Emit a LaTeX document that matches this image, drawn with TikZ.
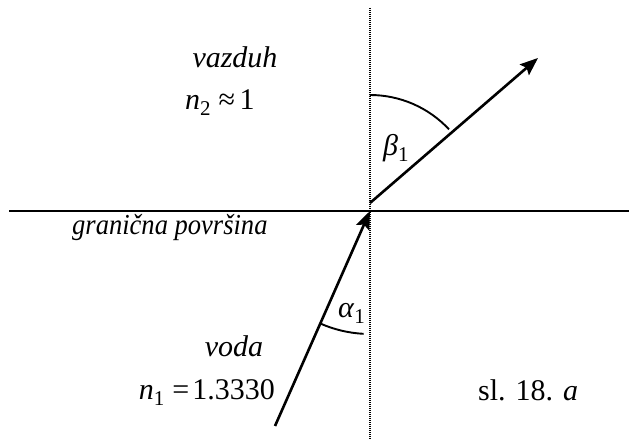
\documentclass[tikz,border=0pt]{standalone}
\usepackage{fontspec}
\setmainfont{Liberation Serif}
\usetikzlibrary{arrows.meta}
\newcommand{\Unit}{1pt}
\newcommand{\Edge}{2.6pt}
\newcommand{\LblFont}{\fontsize{30}{34}\selectfont}
\newcommand{\Idx}[2]{\textit{#1}\textsubscript{#2}}

\begin{document}
\begin{tikzpicture}[x=\Unit,y=\Unit, line cap=butt,
  lbl/.style={inner sep=0pt, font=\LblFont},
  ray/.style={line width=\Edge},
  tip/.style={-{Stealth[length=18pt,width=14pt,inset=3pt]}},
  angarc/.style={line width=1.9pt}]

  \useasboundingbox (0,0) rectangle (629,439);

  % ---- points -------------------------------------------------------------
  \coordinate (O)     at (370,228);   % where the rays meet the surface
  \coordinate (Rbase) at (370,236);
  \coordinate (Rtip)  at (538,381);
  \coordinate (Ifoot) at (275,13);
  \coordinate (Sleft) at (9,228);
  \coordinate (Sright) at (629,228);
  \coordinate (Ntop)  at (370,431);
  \coordinate (Nbot)  at (370,0);

  % ---- surface and normal -------------------------------------------------
  \draw[line width=2.2pt] (Sleft) -- (Sright);
  \draw[line width=1.2pt, dash pattern=on 1pt off 1pt] (Ntop) -- (Nbot);

  % ---- rays ---------------------------------------------------------------
  \draw[ray,tip] (Ifoot) -- (O);
  \draw[ray,tip] (Rbase) -- (Rtip);

  % ---- angles -------------------------------------------------------------
  \draw[angarc] ([shift={(90:108)}]Rbase) arc (90:43:108);
  \draw[angarc] ([shift={(246:123)}]O) arc (246:267:123);

  % ---- labels -------------------------------------------------------------
  \node[lbl,anchor=base] (air) at (235,371) {\textit{vazduh}};
  \node[lbl,anchor=base west] (nair) at (185,329)
    {\Idx{n}{2}\ ≈\hspace{0.15em}1};
  \node[lbl,anchor=base west] (beta) at (383,283) {\Idx{β}{1}};
  \node[lbl,anchor=base west,font=\fontsize{29}{34}\selectfont] (surf)
    at (72,204) {\scalebox{0.915}[1]{\textit{granična površina}}};
  \node[lbl,anchor=base west] (alpha) at (338,121) {\Idx{α}{1}};
  \node[lbl,anchor=base] (water) at (234,82) {\textit{voda}};
  \node[lbl,anchor=base east] (nwater) at (275,39)
    {\Idx{n}{1}\ =\hspace{0.1em}1.3330};
  \node[lbl,anchor=base west] (fig) at (478,38) {sl. 18. \textit{a}};

\end{tikzpicture}
\end{document}
